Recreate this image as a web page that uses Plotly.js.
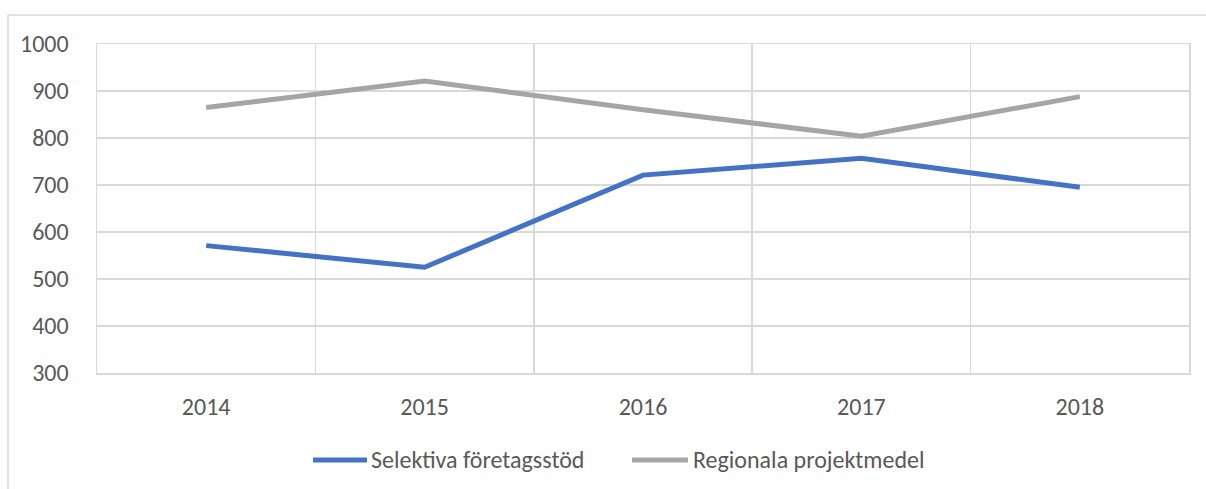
<!DOCTYPE html>
<html>
<head>
<meta charset="utf-8">
<script src="https://cdn.plot.ly/plotly-3.0.1.min.js"></script>
<style>
html,body{margin:0;padding:0;background:#fff;}
#chart{width:1206px;height:489px;}
</style>
</head>
<body>
<div id="chart"></div>
<script>
const years = ["2014", "2015", "2016", "2017", "2018"];
const selektiva = [571, 525, 721, 757, 695];
const regionala = [865, 921, 860, 804, 888];
const seriesNames = ["Selektiva företagsstöd", "Regionala projektmedel"];
const seriesColors = ["#4472c4", "#a5a5a5"];
const yTicks = [300, 400, 500, 600, 700, 800, 900, 1000];

const fontFamily = "Carlito, Calibri, 'Liberation Sans Narrow', 'Open Sans', sans-serif";
const gridColor = "#d9d9d9";
const textColor = "#595959";

const traces = [
  {x: years, y: selektiva, name: seriesNames[0], type: "scatter", mode: "lines",
   line: {color: seriesColors[0], width: 5, shape: "linear"}},
  {x: years, y: regionala, name: seriesNames[1], type: "scatter", mode: "lines",
   line: {color: seriesColors[1], width: 5, shape: "linear"}}
];

// custom legend (longer swatches, like the original)
const legendY = -0.2644;
const swatchX = [[0.1978, 0.2473], [0.4899, 0.5412]];
const labelX = [0.2490, 0.5440];

const shapes = [
  {type: "line", xref: "paper", yref: "paper", x0: -0.0815, x1: 1.1, y0: 1.0881, y1: 1.0881,
   line: {color: gridColor, width: 1.5}},
  {type: "line", xref: "paper", yref: "paper", x0: -0.0815, x1: -0.0815, y0: 1.0881, y1: -0.5,
   line: {color: gridColor, width: 1.5}}
];
const annotations = [];
seriesNames.forEach((n, i) => {
  shapes.push({type: "line", xref: "paper", yref: "paper", x0: swatchX[i][0], x1: swatchX[i][1],
               y0: legendY, y1: legendY, line: {color: seriesColors[i], width: 5}});
  annotations.push({xref: "paper", yref: "paper", x: labelX[i], y: legendY, xanchor: "left", yanchor: "middle",
                    text: n, showarrow: false, font: {family: fontFamily, size: 24, color: textColor}});
});

const layout = {
  width: 1206, height: 489,
  margin: {l: 97, r: 17, t: 44, b: 116},
  paper_bgcolor: "#ffffff", plot_bgcolor: "#ffffff",
  font: {family: fontFamily, size: 24, color: textColor},
  showlegend: false,
  xaxis: {type: "category", range: [-0.5, 4.5], tickson: "boundaries", ticks: "",
          showgrid: true, gridcolor: gridColor, gridwidth: 1.5,
          showline: true, linecolor: gridColor, linewidth: 1.5, mirror: true,
          tickfont: {family: fontFamily, size: 24, color: textColor}, ticklabelstandoff: 12,
          fixedrange: true},
  yaxis: {range: [300, 1000], tickvals: yTicks, ticks: "",
          showgrid: true, gridcolor: gridColor, gridwidth: 1.5, zeroline: false,
          showline: true, linecolor: gridColor, linewidth: 1.5, mirror: true,
          tickfont: {family: fontFamily, size: 24, color: textColor}, ticklabelstandoff: 22,
          fixedrange: true},
  shapes: shapes,
  annotations: annotations
};

Plotly.newPlot("chart", traces, layout, {displayModeBar: false, staticPlot: true});
</script>
</body>
</html>
